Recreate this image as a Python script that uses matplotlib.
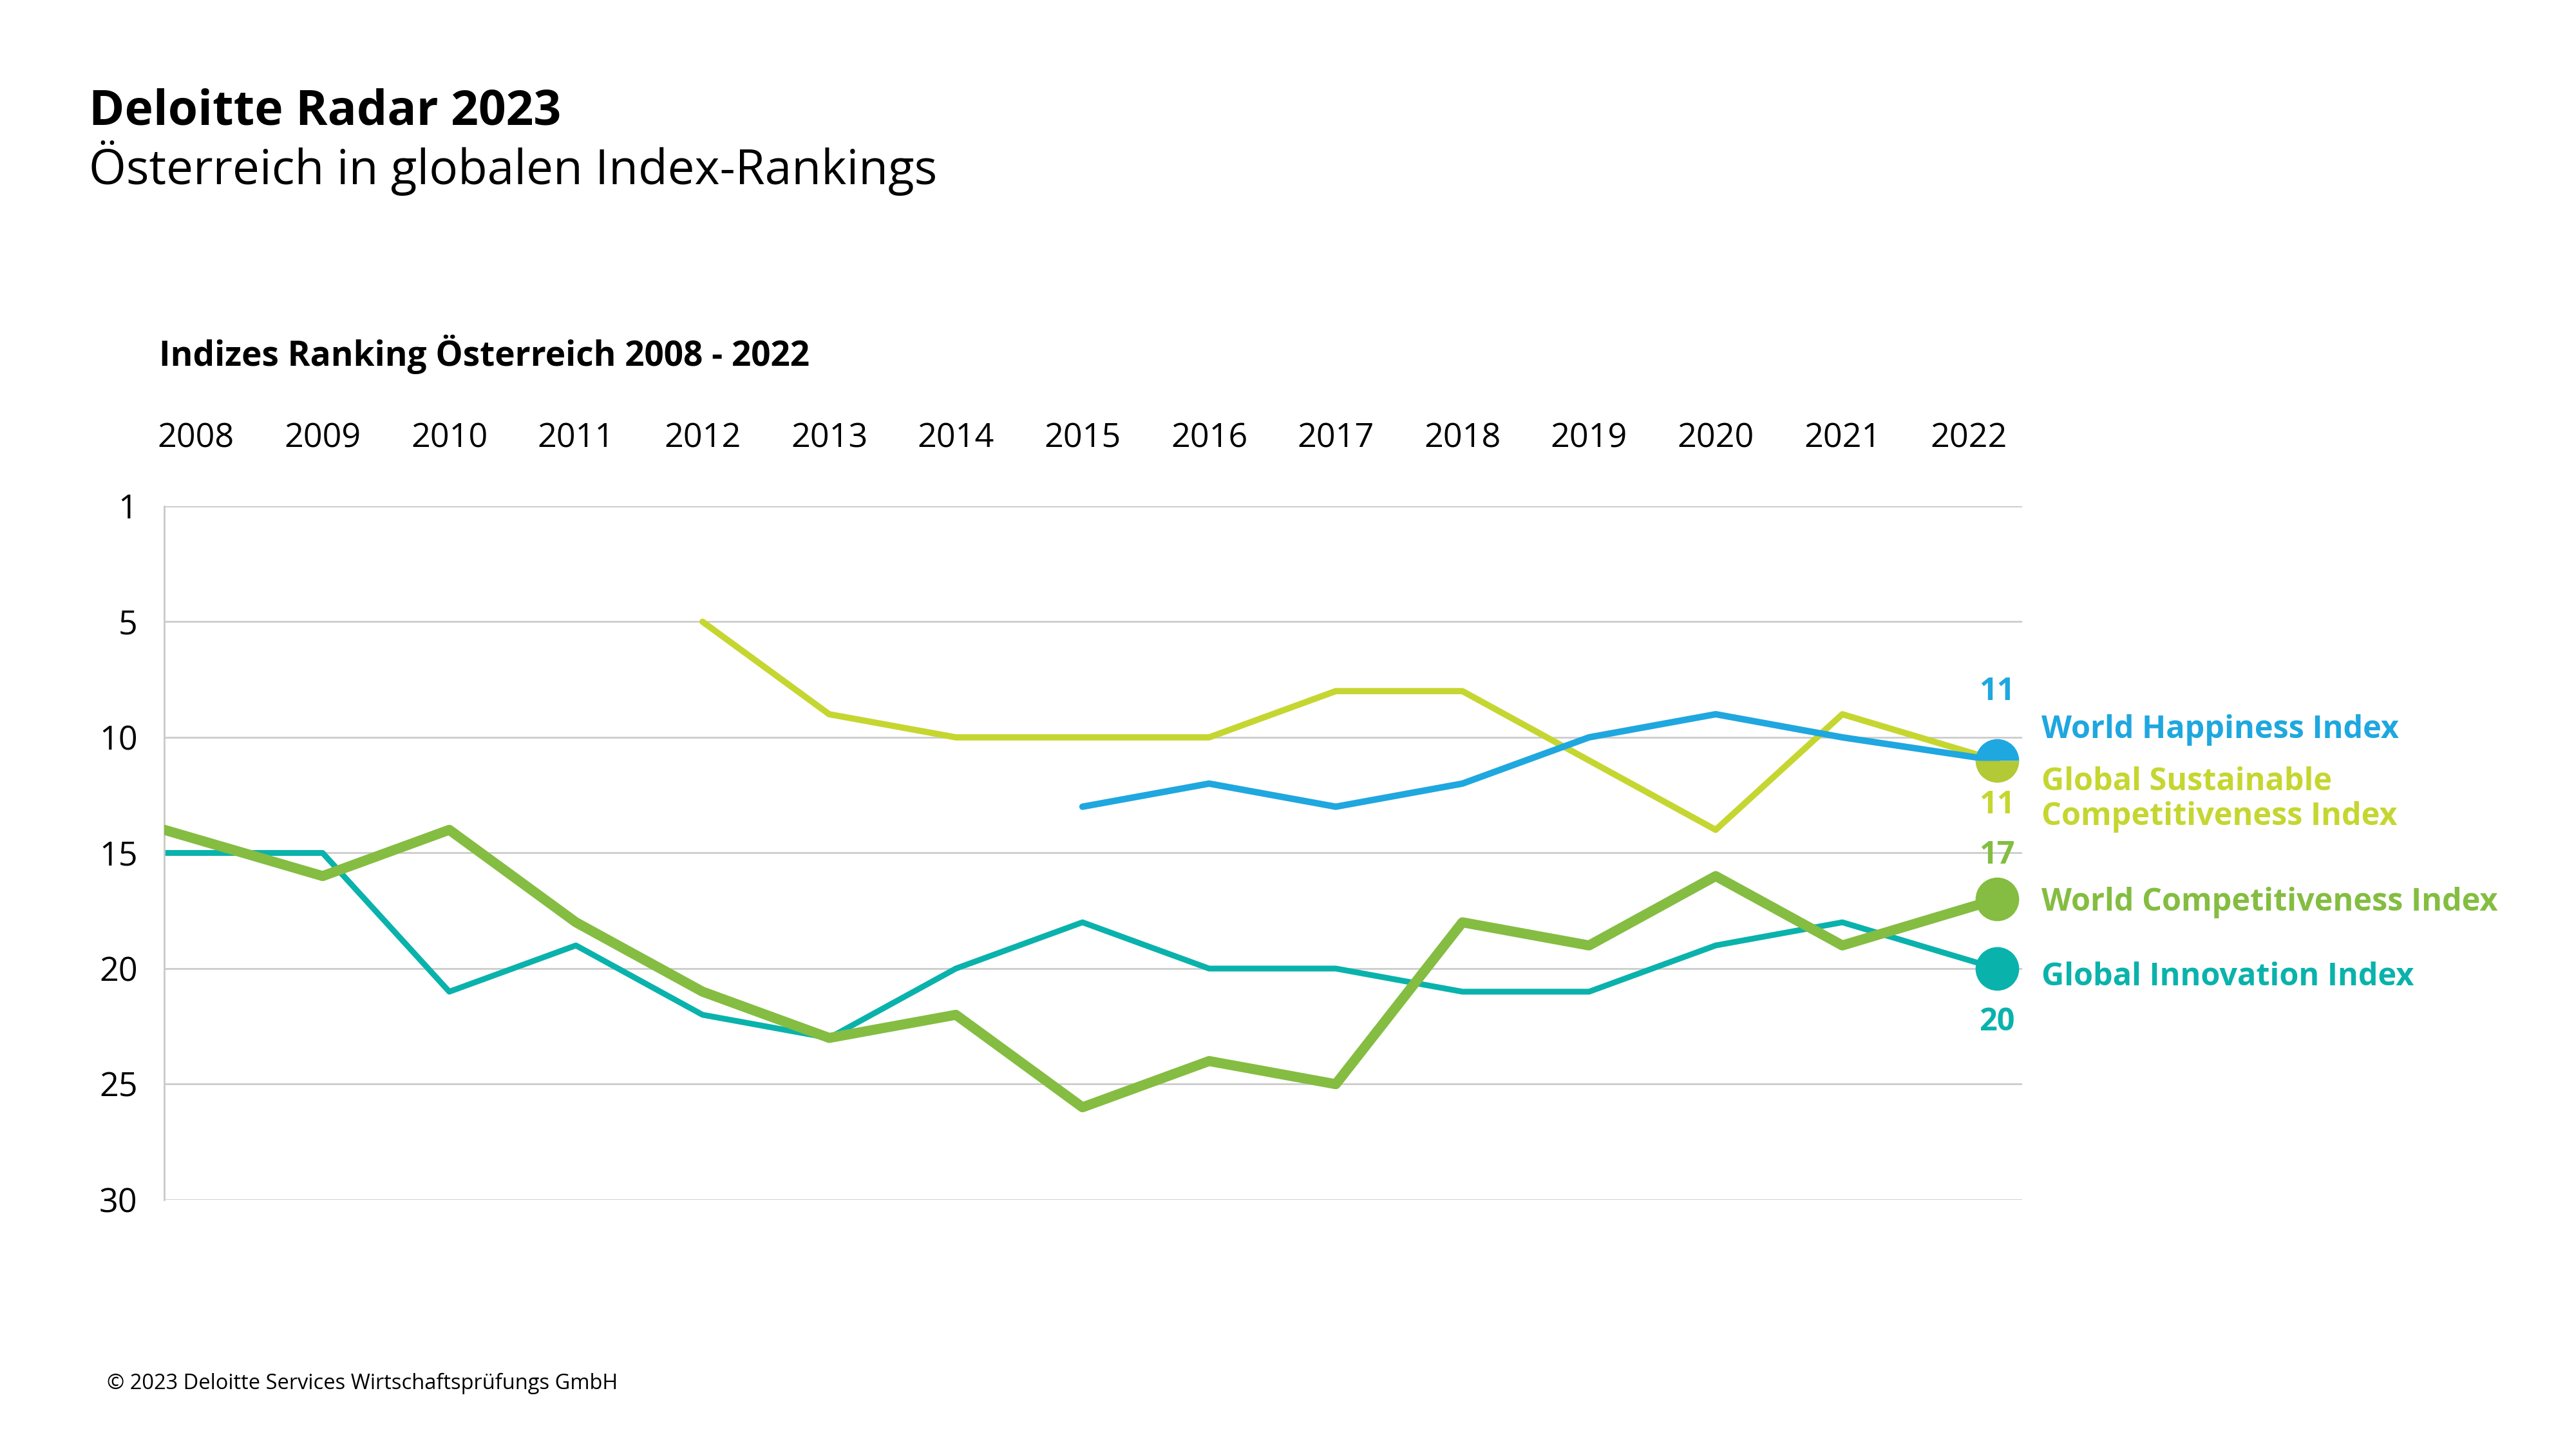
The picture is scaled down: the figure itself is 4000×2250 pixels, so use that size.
import numpy as np
import matplotlib
matplotlib.use("Agg")
import matplotlib.pyplot as plt

plt.rcParams['font.family'] = ['Open Sans', 'DejaVu Sans']

# --- data (ranks, lower = better) ---
years = list(range(2008, 2023))
nan = np.nan
whi  = [nan]*7 + [13, 12, 13, 12, 10, 9, 10, 11]
gsci = [nan]*4 + [5, 9, 10, 10, 10, 8, 8, 11, 14, 9, 11]
wci  = [14, 16, 14, 18, 21, 23, 22, 26, 24, 25, 18, 19, 16, 19, 17]
gii  = [15, 15, 21, 19, 22, 23, 20, 18, 20, 20, 21, 21, 19, 18, 20]

names = ["World Happiness Index", "Global Sustainable\nCompetitiveness Index",
         "World Competitiveness Index", "Global Innovation Index"]
c_whi, c_gsci, c_wci, c_gii = "#1FA7DF", "#C5D631", "#84BD41", "#0AB2AC"
c_gsci_dot = "#B3C935"

ytick_vals = [0, 5, 10, 15, 20, 25, 30]
ytick_labels = ["1", "5", "10", "15", "20", "25", "30"]

x = np.array(years, dtype=float)
x[0] -= 0.25    # lines run out to the left axis line
x[-1] += 0.22   # end dots sit a bit right of the last year column

fig = plt.figure(figsize=(16, 9), dpi=250)
ax = fig.add_axes([0.0638, 0.172, 0.785 - 0.0638, 0.6507 - 0.172])

for yv in ytick_vals:
    ax.axhline(yv, color="#C9C9C9", lw=0.75, zorder=0)

kw = dict(solid_joinstyle="round", solid_capstyle="round")
ax.plot(x, gii, color=c_gii, lw=2.6, zorder=2, **kw)
ax.plot(x, gsci, color=c_gsci, lw=2.8, zorder=3, **kw)
ax.plot(x, whi, color=c_whi, lw=2.9, zorder=4, **kw)
ax.plot(x, wci, color=c_wci, lw=4.5, zorder=5, **kw)

# end dots
ms = 19.5
ax.plot(x[-1], whi[-1], marker="o", ms=ms, fillstyle="top", markerfacecolor=c_whi,
        markerfacecoloralt=c_gsci_dot, markeredgewidth=0, clip_on=False, zorder=6)
ax.plot(x[-1], wci[-1], marker="o", ms=ms, color=c_wci, markeredgewidth=0, clip_on=False, zorder=6)
ax.plot(x[-1], gii[-1], marker="o", ms=ms, color=c_gii, markeredgewidth=0, clip_on=False, zorder=6)

# end values
num_kw = dict(textcoords="offset points", ha="center", va="center",
              fontsize=14, fontweight="bold", annotation_clip=False)
ax.annotate(str(whi[-1]), (x[-1], whi[-1]), xytext=(0, 30.5), color=c_whi, **num_kw)
ax.annotate(str(gsci[-1]), (x[-1], gsci[-1]), xytext=(0, -20), color=c_gsci, **num_kw)
ax.annotate(str(wci[-1]), (x[-1], wci[-1]), xytext=(0, 19.5), color=c_wci, **num_kw)
ax.annotate(str(gii[-1]), (x[-1], gii[-1]), xytext=(0, -24), color=c_gii, **num_kw)

# series names
lab_kw = dict(textcoords="offset points", ha="left", va="center",
              fontsize=14, fontweight="bold", annotation_clip=False, linespacing=1.12)
ax.annotate(names[0], (x[-1], whi[-1]), xytext=(20, 13.5), color=c_whi, **lab_kw)
ax.annotate(names[1], (x[-1], gsci[-1]), xytext=(20, -17.5), color=c_gsci, **lab_kw)
ax.annotate(names[2], (x[-1], wci[-1]), xytext=(20, -1.5), color=c_wci, **lab_kw)
ax.annotate(names[3], (x[-1], gii[-1]), xytext=(20, -4), color=c_gii, **lab_kw)

ax.set_xlim(2007.75, 2022.42)
ax.set_ylim(30, 0)
ax.set_yticks(ytick_vals)
ax.set_yticklabels(ytick_labels)
ax.set_xticks(years)
ax.set_xticklabels([str(y) for y in years])
ax.xaxis.tick_top()
ax.tick_params(axis="x", length=0, pad=23, labelsize=15)
ax.tick_params(axis="y", length=0, pad=12, labelsize=15)
for s in ["top", "right", "bottom"]:
    ax.spines[s].set_visible(False)
ax.spines["left"].set_color("#C9C9C9")
ax.spines["left"].set_linewidth(0.8)

fig.text(138/4000, 1 - 174/2250, "Deloitte Radar 2023", fontsize=21.6, fontweight="bold", va="center")
fig.text(138/4000, 1 - 261/2250, "Österreich in globalen Index-Rankings", fontsize=21.5, va="center")
fig.text(247/4000, 1 - 550/2250, "Indizes Ranking Österreich 2008 - 2022", fontsize=15.3, fontweight="bold", va="center")
fig.text(166/4000, 1 - 2148/2250, "© 2023 Deloitte Services Wirtschaftsprüfungs GmbH", fontsize=9.4, va="center")

fig.savefig("out.png", dpi=250, facecolor="white")
